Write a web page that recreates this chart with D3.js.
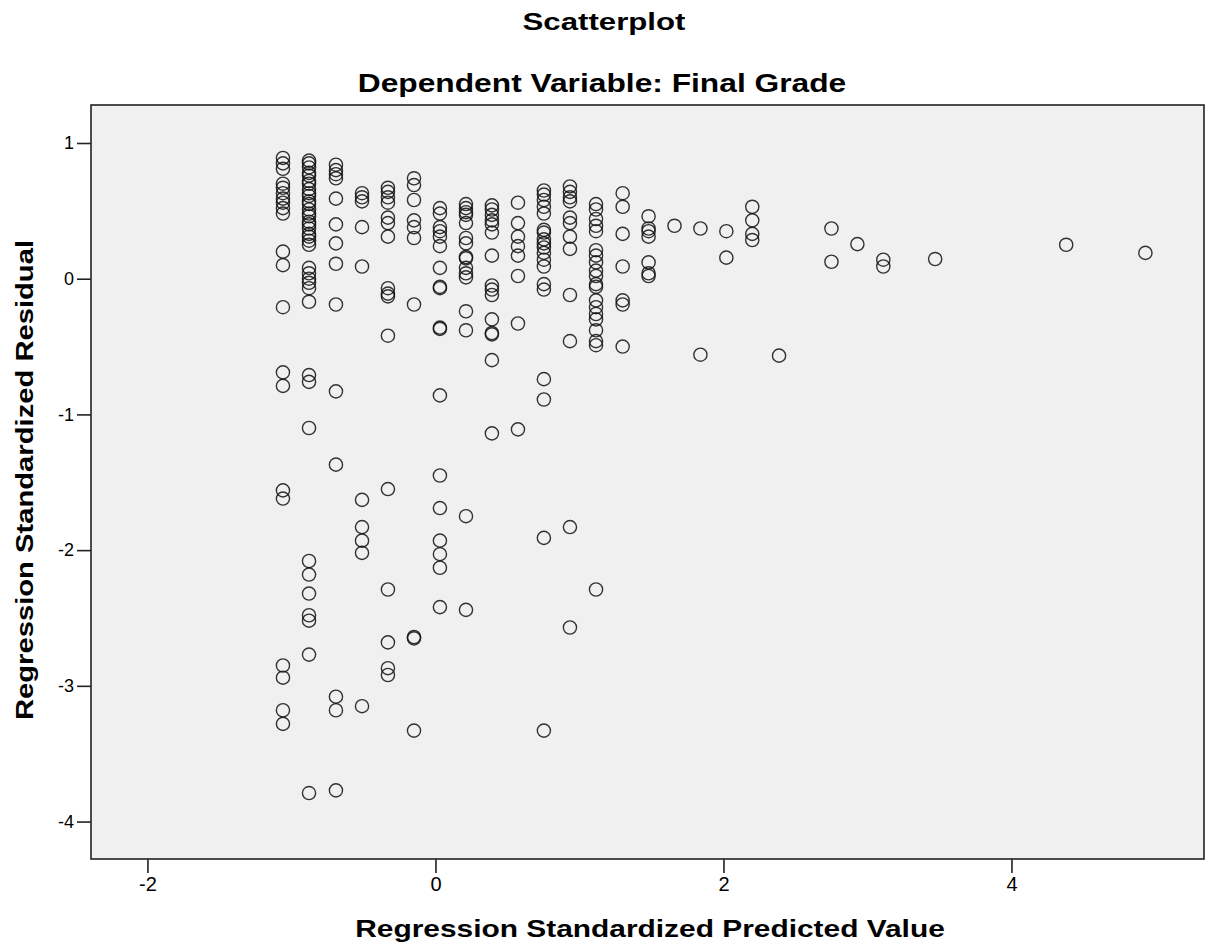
<!DOCTYPE html>
<html>
<head>
<meta charset="utf-8">
<script src="https://cdn.jsdelivr.net/npm/d3@7"></script>
<style>
  html, body { margin: 0; padding: 0; background: #ffffff; }
  svg { display: block; }
  text { font-family: "Liberation Sans", Arial, sans-serif; fill: #000; }
</style>
</head>
<body>
<svg id="chart" width="1216" height="949"></svg>
<script>
// Regression standardized predicted values (discrete levels) with their residuals
const predictedLevels = [-1.059, -0.878, -0.691, -0.510, -0.330, -0.149, 0.031, 0.212, 0.392, 0.573,
  0.753, 0.934, 1.115, 1.300, 1.480, 1.660, 1.840, 2.020, 2.200, 2.386, 2.750, 2.930, 3.110, 3.470, 4.380, 4.930];

const residualsByLevel = [
  [0.89, 0.85, 0.81, 0.70, 0.67, 0.63, 0.59, 0.56, 0.52, 0.48, 0.20, 0.10, -0.21, -0.69, -0.79, -1.56, -1.62, -2.85, -2.94, -3.18, -3.28],
  [0.87, 0.85, 0.82, 0.78, 0.76, 0.72, 0.70, 0.66, 0.63, 0.61, 0.57, 0.55, 0.51, 0.48, 0.46, 0.42, 0.40, 0.37, 0.33, 0.31, 0.28, 0.25,
   0.08, 0.04, 0.00, -0.03, -0.07, -0.17, -0.71, -0.76, -1.10, -2.08, -2.18, -2.32, -2.48, -2.52, -2.77, -3.79],
  [0.84, 0.80, 0.77, 0.74, 0.59, 0.40, 0.26, 0.11, -0.19, -0.83, -1.37, -3.08, -3.18, -3.77],
  [0.63, 0.60, 0.57, 0.38, 0.09, -1.63, -1.83, -1.93, -2.02, -3.15],
  [0.67, 0.64, 0.60, 0.56, 0.45, 0.41, 0.31, -0.07, -0.11, -0.13, -0.42, -1.55, -2.29, -2.68, -2.87, -2.92],
  [0.74, 0.69, 0.58, 0.43, 0.38, 0.30, -0.19, -2.64, -2.65, -3.33],
  [0.52, 0.48, 0.38, 0.35, 0.31, 0.24, 0.08, -0.06, -0.07, -0.36, -0.37, -0.86, -1.45, -1.69, -1.93, -2.03, -2.13, -2.42],
  [0.55, 0.52, 0.49, 0.47, 0.41, 0.30, 0.26, 0.16, 0.15, 0.08, 0.04, 0.01, -0.24, -0.38, -1.75, -2.44],
  [0.54, 0.51, 0.47, 0.43, 0.40, 0.34, 0.17, -0.05, -0.08, -0.12, -0.30, -0.40, -0.41, -0.60, -1.14],
  [0.56, 0.41, 0.31, 0.24, 0.17, 0.02, -0.33, -1.11],
  [0.65, 0.62, 0.58, 0.53, 0.48, 0.36, 0.34, 0.29, 0.26, 0.23, 0.19, 0.14, 0.09, -0.04, -0.08, -0.74, -0.89, -1.91, -3.33],
  [0.68, 0.64, 0.60, 0.57, 0.45, 0.41, 0.31, 0.22, -0.12, -0.46, -1.83, -2.57],
  [0.55, 0.51, 0.44, 0.39, 0.35, 0.21, 0.17, 0.12, 0.06, 0.02, -0.04, -0.06, -0.16, -0.21, -0.26, -0.30, -0.38, -0.46, -0.49, -2.29],
  [0.63, 0.53, 0.33, 0.09, -0.16, -0.19, -0.50],
  [0.46, 0.37, 0.35, 0.31, 0.12, 0.04, 0.02],
  [0.39],
  [0.37, -0.56],
  [0.35, 0.155],
  [0.53, 0.43, 0.33, 0.285],
  [-0.567],
  [0.37, 0.125],
  [0.255],
  [0.14, 0.09],
  [0.145],
  [0.25],
  [0.19]
];

const xTicks = [-2, 0, 2, 4];
const yTicks = [1, 0, -1, -2, -3, -4];
const xDomain = [-2.392, 5.337];
const yDomain = [-4.276, 1.28];

const chartTitle = "Scatterplot";
const chartSubtitle = "Dependent Variable: Final Grade";
const xLabel = "Regression Standardized Predicted Value";
const yLabel = "Regression Standardized Residual";

// Flatten into point records
const points = [];
predictedLevels.forEach((p, i) => {
  residualsByLevel[i].forEach(r => points.push({ predicted: p, residual: r }));
});

const svg = d3.select("#chart");
const plot = { left: 91, top: 105, right: 1204, bottom: 859 };

const x = d3.scaleLinear().domain(xDomain).range([plot.left, plot.right]);
const y = d3.scaleLinear().domain(yDomain).range([plot.bottom, plot.top]);

// Plot background
svg.append("rect")
  .attr("x", plot.left).attr("y", plot.top)
  .attr("width", plot.right - plot.left).attr("height", plot.bottom - plot.top)
  .attr("fill", "#f0f0f0");

// Points (open circles)
svg.append("g")
  .selectAll("circle")
  .data(points)
  .join("circle")
  .attr("cx", d => x(d.predicted))
  .attr("cy", d => y(d.residual))
  .attr("r", 6.6)
  .attr("fill", "none")
  .attr("stroke", "#111")
  .attr("stroke-opacity", 0.85)
  .attr("stroke-width", 1.4);

// Frame
svg.append("rect")
  .attr("x", plot.left).attr("y", plot.top)
  .attr("width", plot.right - plot.left).attr("height", plot.bottom - plot.top)
  .attr("fill", "none")
  .attr("stroke", "#222")
  .attr("stroke-width", 1.6);

// Axes
const signed = d => d < 0 ? "-" + Math.abs(d) : String(d);
const xAxis = d3.axisBottom(x).tickValues(xTicks).tickSize(14).tickPadding(4).tickFormat(signed);
const yAxis = d3.axisLeft(y).tickValues(yTicks).tickSize(14).tickPadding(3).tickFormat(signed);

const gx = svg.append("g").attr("transform", `translate(0,${plot.bottom})`).call(xAxis);
const gy = svg.append("g").attr("transform", `translate(${plot.left},0)`).call(yAxis);

[gx, gy].forEach(g => {
  g.select(".domain").remove();
  g.selectAll(".tick line").attr("stroke", "#222").attr("stroke-width", 1.6);
  g.selectAll(".tick text")
    .attr("font-family", "'Liberation Sans', Arial, sans-serif")
    .attr("fill", "#000");
});
gx.selectAll(".tick text").attr("font-size", 20);
gy.selectAll(".tick text").attr("font-size", 18);

// Bold, horizontally widened labels
function label(text, cx, baseline, size, stretch, rotate) {
  svg.append("text")
    .attr("transform", `translate(${cx},${baseline})${rotate ? " rotate(-90)" : ""} scale(${stretch},1)`)
    .attr("text-anchor", "middle")
    .attr("font-size", size)
    .attr("font-weight", "bold")
    .text(text);
}

label(chartTitle, 604, 30, 24, 1.3, false);
label(chartSubtitle, 602, 92, 25, 1.27, false);
label(xLabel, 650, 937, 23, 1.3, false);
label(yLabel, 33, 480, 23, 1.27, true);
</script>
</body>
</html>
